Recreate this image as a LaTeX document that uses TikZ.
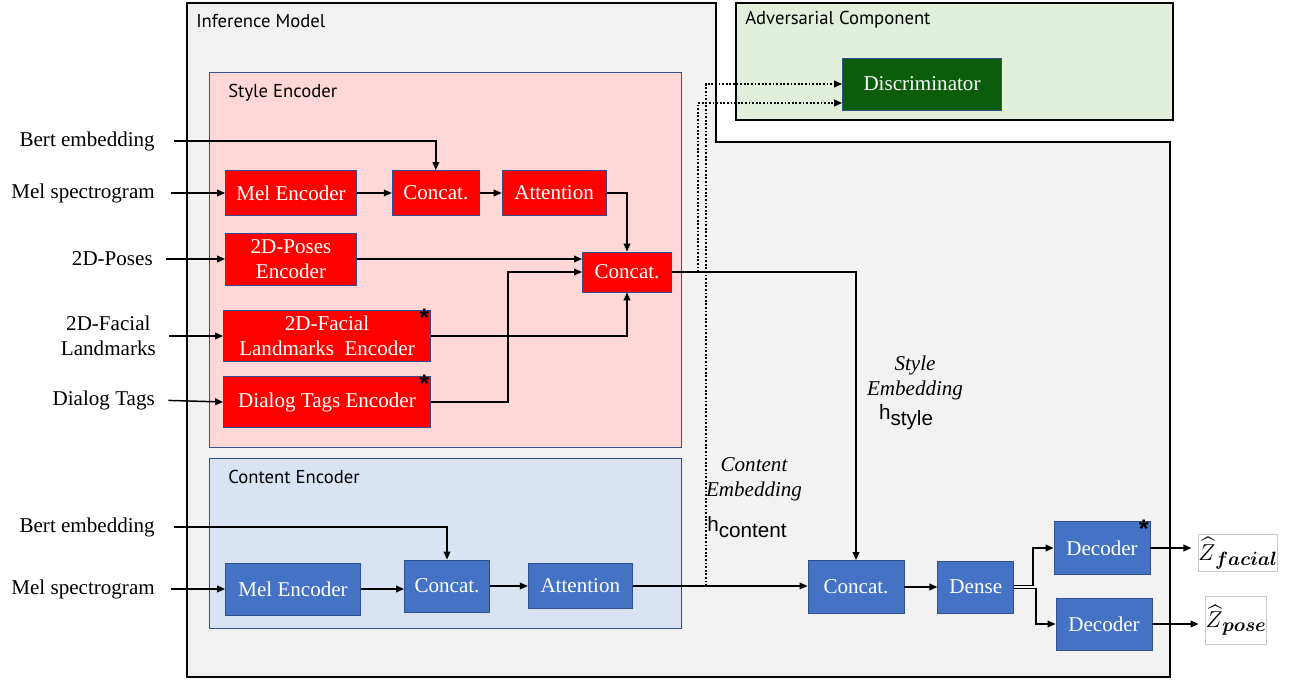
\documentclass[tikz,border=0pt]{standalone}
\usepackage{amsmath,amssymb,bm}
\usepackage{fontspec}
\setmainfont{Liberation Serif}
\setsansfont{Liberation Sans}
\newfontfamily\titlefont{PT Sans}
\usepackage{xcolor,tikz}
\usetikzlibrary{arrows.meta,positioning,calc}
\definecolor{panel}{HTML}{F2F2F2}
\definecolor{advbg}{HTML}{E2EFDA}
\definecolor{stylebg}{HTML}{FFD7D7}
\definecolor{contbg}{HTML}{DAE3F3}
\definecolor{redbox}{HTML}{FF0000}
\definecolor{bluebox}{HTML}{4472C4}
\definecolor{edgeblue}{HTML}{2F528F}
\definecolor{discgreen}{HTML}{0B5D0B}
\newcommand\boxfont{\fontsize{15.8}{19}\selectfont}
\tikzset{sbox/.style={draw=edgeblue,fill=redbox,text=white,inner sep=0pt,align=center,
  font=\boxfont,line width=0.6pt},
  cbox/.style={sbox,fill=bluebox},
  inlabel/.style={anchor=east,inner sep=0pt,align=center,font=\boxfont},
  emb/.style={inner sep=0pt,align=center,font=\boxfont\itshape},
  hlab/.style={inner sep=0pt,font=\sffamily\fontsize{15.5}{17}\selectfont},
  title/.style={anchor=west,inner sep=0pt,font=\titlefont\fontsize{14}{15}\selectfont},
  outbox/.style={draw=black!20,fill=white,inner sep=0pt,font=\fontsize{19}{22}\selectfont},
  star/.style={label={[anchor=north east,inner sep=1pt,yshift=2pt,text=black,
    font=\sffamily\bfseries\fontsize{19}{19}\selectfont]north east:*}},
  arrow/.style={-{Triangle[length=6pt,width=5pt]},line width=1.1pt},
  dotarrow/.style={arrow,line width=1.4pt,dash pattern=on 1.4pt off 1.3pt}}
\begin{document}
\begin{tikzpicture}[x=0.75pt,y=-0.75pt]
\useasboundingbox (0,0) rectangle (1294,680);
% panels
\draw[fill=panel,line width=1.5pt] (187,3) -- (716,3) -- (716,142) -- (1170,142)
  -- (1170,677) -- (187,677) -- cycle;
\draw[fill=advbg,line width=1.5pt] (736,3) rectangle (1173,120);
\draw[draw=edgeblue,fill=stylebg,line width=0.5pt] (209,72) rectangle (681,447);
\draw[draw=edgeblue,fill=contbg,line width=0.5pt] (209,458) rectangle (681,628);
\node[title] (tInf) at (196,21) {Inference Model};
\node[title] (tAdv) at (745,20) {Adversarial Component};
\node[title] (tSty) at (228,93) {Style Encoder};
\node[title] (tCon) at (228,477) {Content Encoder};
% style encoder
\node[sbox,minimum width=98.25pt,minimum height=33.75pt] (melS) at (291,193) {Mel Encoder};
\node[sbox,minimum width=65.25pt,minimum height=33.75pt,right=26.25pt of melS] (catS1) {Concat.};
\node[sbox,minimum width=78pt,minimum height=33.75pt,right=16.5pt of catS1] (attS) {Attention};
\node[sbox,minimum width=98.25pt,minimum height=39pt] (posesS) at (291,259) {2D-Poses\\Encoder};
\node[sbox,minimum width=66.75pt,minimum height=30pt] (catS2) at (627,272) {Concat.};
\node[sbox,star,minimum width=155.25pt,minimum height=38.25pt] (facialS) at (327,336)
  {2D-Facial\\Landmarks\ \ Encoder};
\node[sbox,star,minimum width=155.25pt,minimum height=38.25pt] (dialogS) at (327,402)
  {Dialog Tags Encoder};
% content encoder
\node[cbox,minimum width=101.25pt,minimum height=39pt] (melC) at (293,589) {Mel Encoder};
\node[cbox,minimum width=63.75pt,minimum height=39pt] (catC) at (447,586) {Concat.};
\node[cbox,minimum width=78pt,minimum height=33.75pt,right=28.5pt of catC] (attC) {Attention};
\node[cbox,minimum width=72pt,minimum height=39.75pt] (catC3) at (856,587) {Concat.};
\node[cbox,minimum width=57pt,minimum height=39pt,right=24.75pt of catC3] (dense) {Dense};
\node[cbox,star,minimum width=72pt,minimum height=39.75pt] (dec1) at (1102,548) {Decoder};
\node[cbox,minimum width=72pt,minimum height=39pt] (dec2) at (1104,624) {Decoder};
\node[sbox,fill=discgreen,minimum width=119.25pt,minimum height=39pt] (disc) at (922,84)
  {Discriminator};
% outputs
\node[outbox,minimum width=47pt,minimum height=28pt] (zf) at (1238,553)
  {$\widehat{Z}_{\kern1pt\boldsymbol{facial}}$};
\node[outbox,minimum width=41pt,minimum height=36pt] (zp) at (1236,620)
  {$\widehat{Z}_{\kern1pt\boldsymbol{pose}}$};
% inputs
\node[inlabel] (bertS) at (155,141) {Bert embedding};
\node[inlabel] (melinS) at (155,193) {Mel spectrogram};
\node[inlabel] (posesin) at (153,259) {2D-Poses};
\node[inlabel] (facialin) at (156,336) {2D-Facial\\Landmarks};
\node[inlabel] (dialogin) at (155,400) {Dialog Tags};
\node[inlabel] (bertC) at (155,527) {Bert embedding};
\node[inlabel] (melinC) at (155,589) {Mel spectrogram};
% embedding labels
\node[emb] (styEmb) at (915,378) {Style\\Embedding};
\node[hlab] (hSty) at (906,417) {h\raisebox{-5pt}{style}};
\node[emb] (conEmb) at (754,479) {Content\\Embedding};
\node[hlab] (hCon) at (747,527) {h\raisebox{-5pt}{content}};
% connectors
\draw[arrow,shorten <=14pt] (bertS.east) -| (catS1.north);
\draw[arrow,shorten <=12pt] (melinS.east) -- (melS.west);
\draw[arrow] (melS) -- (catS1);
\draw[arrow] (catS1) -- (attS);
\draw[arrow] (attS.east) -| (catS2.north);
\draw[arrow,shorten <=10pt] (posesin.east) -- (posesS.west);
\draw[arrow] (posesS.east) -- (posesS.east -| catS2.west);
\draw[arrow,shorten <=10pt] (facialin.east) -- (facialS.west);
\draw[arrow] (facialS.east) -| (catS2.south);
\draw[arrow,shorten <=10pt] (dialogin.east) -- (dialogS.west);
\draw[arrow] (dialogS.east) -- ++(77,0) |- (catS2.west);
\draw[arrow] (catS2.east) -| (catC3.north);
\draw[arrow,shorten <=14pt] (bertC.east) -| (catC.north);
\draw[arrow,shorten <=12pt] (melinC.east) -- (melC.west);
\draw[arrow] (melC.east) -- (melC.east -| catC.west);
\draw[arrow] (catC) -- (attC);
\draw[arrow] (attC.east) -- (attC.east -| catC3.west);
\draw[arrow] (catC3) -- (dense);
\draw[arrow] ([yshift=1.2pt]dense.east) -- ++(19,0) |- (dec1.west);
\draw[arrow] ([yshift=-1.2pt]dense.east) -- ++(22,0) |- (dec2.west);
\draw[arrow,shorten >=5pt] (dec1.east) -- (dec1.east -| zf.west);
\draw[arrow,shorten >=5pt] (dec2.east) -- (dec2.east -| zp.west);
% to the discriminator
\coordinate (tapS) at ($(catS2.east)+(26,0)$);
\coordinate (tapC) at ($(attC.east)+(73,0)$);
\draw[dotarrow] (tapS) |- ([yshift=-14.25pt]disc.west);
\draw[dotarrow] (tapC) |- (disc.west);
\end{tikzpicture}
\end{document}
